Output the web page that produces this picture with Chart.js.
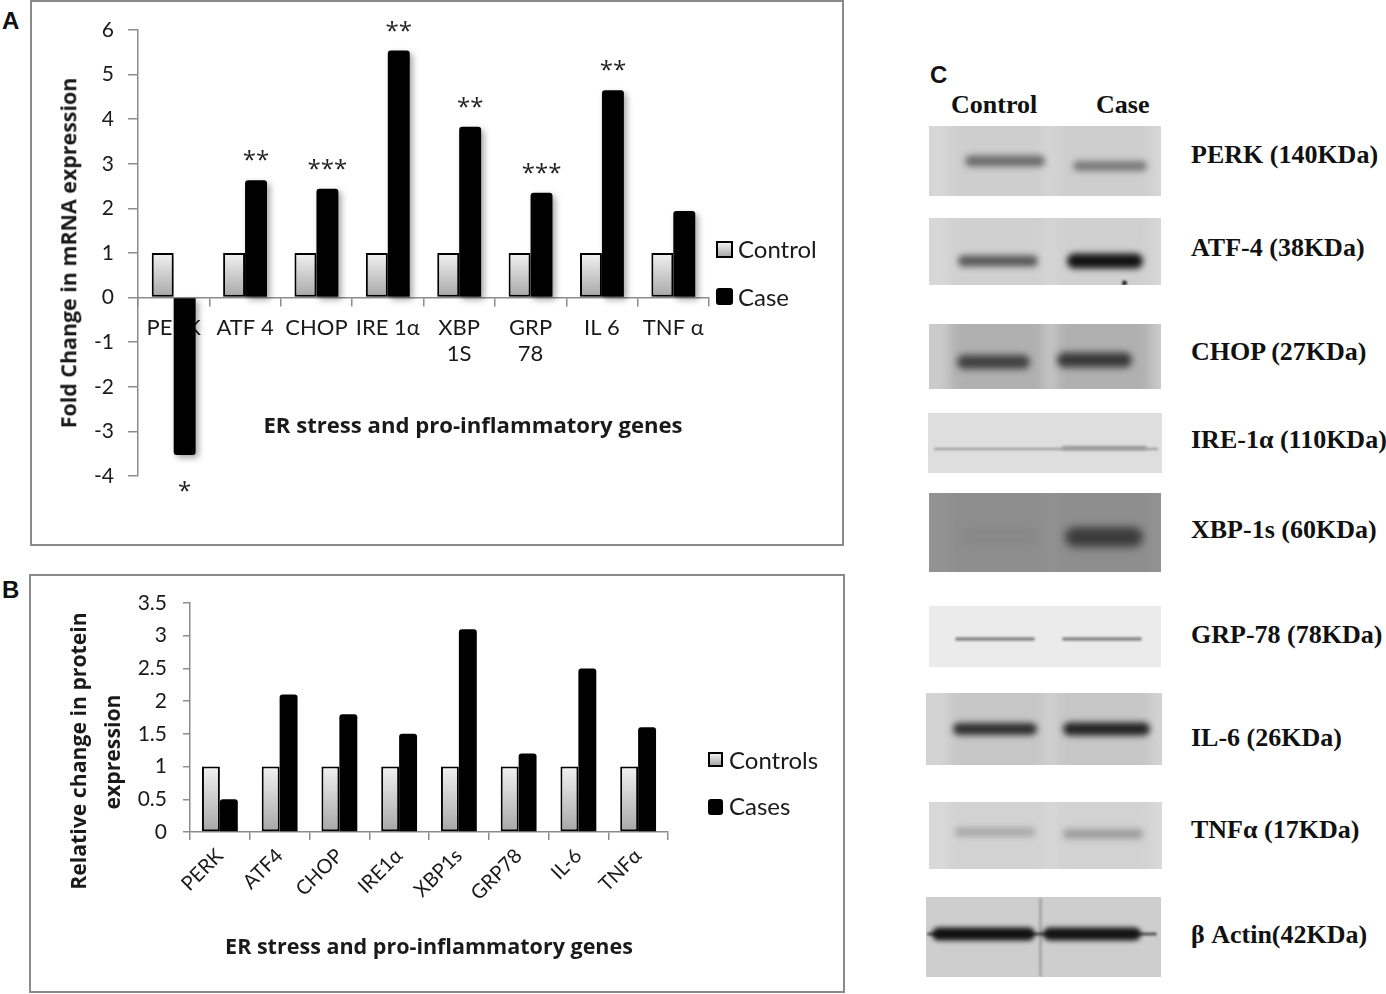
<!DOCTYPE html>
<html lang="en">
<head>
<meta charset="UTF-8">
<title>ER stress and pro-inflammatory genes</title>
<script src="https://cdn.jsdelivr.net/npm/chart.js"></script>
<style>
    body { margin: 0; background: #fff; font-family: Lato, sans-serif; }
    #page { position: relative; width: 1386px; height: 994px; overflow: hidden; background: #fff; }
    .panel { position: absolute; border: 2px solid #8a8a8a; box-sizing: border-box; }
    canvas { position: absolute; }
    .letter { position: absolute; font: bold 24px 'Liberation Sans', Arial, sans-serif; color: #111; line-height: 1; }
    .ytitle, .xtitle { position: absolute; white-space: nowrap; font-family: 'Open Sans', 'DejaVu Sans', sans-serif;
              font-weight: 700; color: #1a1a1a; line-height: 1; }
    .ytitle { transform: translate(-50%, -50%) rotate(-90deg); }
    .xtitle { transform: translate(-50%, -50%); }
    .leg { position: absolute; font-size: 24px; color: #1a1a1a; line-height: 1; transform: translateY(-50%); }
    .sw { position: absolute; box-sizing: border-box; }
    .sw.ctrl { border: 2px solid #000; background: linear-gradient(#f0f0f0, #a8a8a8); }
    .sw.case { background: #000; border-radius: 3px; }
    .serif { position: absolute; font: bold 26px 'Liberation Serif', 'Times New Roman', serif; color: #111;
             white-space: nowrap; transform: translateY(-50%); line-height: 1; }
</style>
</head>
<body>
<div id="page">
    <!-- A: mRNA -->
    <div class="panel" style="left:30px; top:0; width:814px; height:546px;"></div>
    <div class="letter" style="left:2px; top:9px;">A</div>
    <canvas id="chartA" width="843" height="545" style="left:0; top:0;"></canvas>
    <div class="ytitle" id="ytA" style="left:68px; top:253px; font-size:20px;">Fold Change in mRNA expression</div>
    <div class="xtitle" id="xtA" style="left:473px; top:424px; font-size:20px;">ER stress and pro-inflammatory genes</div>
    <div class="sw ctrl" style="left:716px; top:241px; width:17px; height:17px;"></div>
    <div class="leg" style="left:738px; top:249px;">Control</div>
    <div class="sw case" style="left:716px; top:288px; width:17px; height:17px;"></div>
    <div class="leg" style="left:738px; top:297px;">Case</div>

    <!-- B: protein -->
    <div class="panel" style="left:29px; top:574px; width:816px; height:419px;"></div>
    <div class="letter" style="left:2px; top:578px;">B</div>
    <canvas id="chartB" width="845" height="420" style="left:0; top:574px;"></canvas>
    <div class="ytitle" id="ytB1" style="left:78px; top:751px; font-size:20px;">Relative change in protein</div>
    <div class="ytitle" id="ytB2" style="left:112px; top:752px; font-size:20px;">expression</div>
    <div class="xtitle" id="xtB" style="left:429px; top:946px; font-size:19px;">ER stress and pro-inflammatory genes</div>
    <div class="sw ctrl" style="left:708px; top:752px; width:15px; height:15px;"></div>
    <div class="leg" style="left:729px; top:760px;">Controls</div>
    <div class="sw case" style="left:708px; top:799px; width:15px; height:16px;"></div>
    <div class="leg" style="left:729px; top:806px;">Cases</div>

    <!-- C: western blots -->
    <div class="letter" style="left:930px; top:63px;">C</div>
    <div class="serif" style="left:951px; top:105px;">Control</div>
    <div class="serif" style="left:1096px; top:105px;">Case</div>
    <canvas id="blots" width="280" height="890" style="left:900px; top:100px;"></canvas>
    <div class="serif" style="left:1191px; top:155px;">PERK (140KDa)</div>
    <div class="serif" style="left:1191px; top:248px;">ATF-4 (38KDa)</div>
    <div class="serif" style="left:1191px; top:352px;">CHOP (27KDa)</div>
    <div class="serif" style="left:1191px; top:440px;">IRE-1α (110KDa)</div>
    <div class="serif" style="left:1191px; top:530px;">XBP-1s (60KDa)</div>
    <div class="serif" style="left:1191px; top:635px;">GRP-78 (78KDa)</div>
    <div class="serif" style="left:1191px; top:738px;">IL-6 (26KDa)</div>
    <div class="serif" style="left:1191px; top:830px;">TNFα (17KDa)</div>
    <div class="serif" style="left:1191px; top:935px;">β Actin(42KDa)</div>
</div>

<script>
    // ---- data ----
    const genesA = ['PERK', 'ATF 4', 'CHOP', 'IRE 1α', ['XBP', '1S'], ['GRP', '78'], 'IL 6', 'TNF α'];
    const controlA = [1, 1, 1, 1, 1, 1, 1, 1];
    const caseA = [-3.53, 2.63, 2.44, 5.54, 3.83, 2.35, 4.65, 1.94];
    const starsA = ['*', '**', '***', '**', '**', '***', '**', ''];

    const genesB = ['PERK', 'ATF4', 'CHOP', 'IRE1α', 'XBP1s', 'GRP78', 'IL-6', 'TNFα'];
    const controlB = [1, 1, 1, 1, 1, 1, 1, 1];
    const caseB = [0.5, 2.1, 1.8, 1.5, 3.1, 1.2, 2.5, 1.6];

    const axisGray = '#8c8c8c';
    const ink = '#1a1a1a';

    // stretch a title's font so the text spans the same length as in the figure
    function fitText(id, target) {
        const el = document.getElementById(id);
        const fs = parseFloat(getComputedStyle(el).fontSize);
        const size = fs * target / el.offsetWidth;
        el.style.fontSize = size + 'px';
        return size;
    }
    fitText('ytA', 351);
    fitText('xtA', 419);
    document.getElementById('ytB2').style.fontSize = fitText('ytB1', 278) + 'px';
    fitText('xtB', 408);

    // grey-to-white fill of the control bars, spanning 0..1 on the y scale
    function controlFill(context) {
        const chart = context.chart;
        if (!chart.chartArea) return '#cccccc';
        const y = chart.scales.y;
        const g = chart.ctx.createLinearGradient(0, y.getPixelForValue(1), 0, y.getPixelForValue(0));
        g.addColorStop(0, '#f2f2f2');
        g.addColorStop(1, '#a6a6a6');
        return g;
    }

    const shadowPlugin = {
        id: 'barShadow',
        beforeDatasetsDraw(chart) {
            const ctx = chart.ctx;
            ctx.save();
            ctx.shadowColor = 'rgba(0,0,0,0.35)';
            ctx.shadowBlur = 6;
            ctx.shadowOffsetX = 3;
            ctx.shadowOffsetY = 3;
        },
        afterDatasetsDraw(chart) {
            chart.ctx.restore();
        }
    };

    const starsPlugin = {
        id: 'stars',
        afterDraw(chart) {
            const ctx = chart.ctx;
            const meta = chart.getDatasetMeta(1);
            ctx.save();
            ctx.font = '24px "Open Sans"';
            ctx.fillStyle = '#222';
            ctx.textAlign = 'center';
            ctx.textBaseline = 'alphabetic';
            starsA.forEach((s, i) => {
                if (!s) return;
                const bar = meta.data[i];
                const y = caseA[i] >= 0 ? bar.y - 12 : bar.y + 44;
                ctx.fillText(s, bar.x, y);
            });
            ctx.restore();
        }
    };

    function valueAxis(min, max, step, width, tickLen, pad) {
        return {
            min: min, max: max,
            afterFit: s => { s.width = width; },
            ticks: { stepSize: step, font: { family: 'Lato', size: 21 }, color: ink, padding: pad,
                     callback: v => String(v) },
            grid: { drawOnChartArea: false, tickLength: tickLen, color: axisGray, lineWidth: 1.5 },
            border: { color: axisGray, width: 1.5 }
        };
    }

    new Chart(document.getElementById('chartA'), {
        type: 'bar',
        data: {
            labels: genesA,
            datasets: [
                { label: 'Control', data: controlA, backgroundColor: controlFill, borderColor: '#000',
                  borderWidth: 2, borderSkipped: false },
                { label: 'Case', data: caseA, backgroundColor: '#000', borderRadius: 3 }
            ]
        },
        options: {
            responsive: false,
            animation: false,
            devicePixelRatio: 1,
            layout: { padding: { left: 0, top: 30, right: 134, bottom: 69 } },
            datasets: { bar: { categoryPercentage: 0.615, barPercentage: 1 } },
            plugins: { legend: { display: false }, tooltip: { enabled: false } },
            scales: {
                x: {
                    position: { y: 0 },
                    offset: true,
                    grid: { offset: true, drawOnChartArea: false, tickLength: 8, color: axisGray, lineWidth: 1.5 },
                    border: { color: axisGray, width: 1.5 },
                    ticks: { font: { family: 'Lato', size: 22 }, color: ink, padding: 9,
                             maxRotation: 0, autoSkip: false }
                },
                y: valueAxis(-4, 6, 1, 138, 10, 14)
            }
        },
        plugins: [shadowPlugin, starsPlugin]
    });

    new Chart(document.getElementById('chartB'), {
        type: 'bar',
        data: {
            labels: genesB,
            datasets: [
                { label: 'Controls', data: controlB, backgroundColor: controlFill, borderColor: '#000',
                  borderWidth: 2, borderSkipped: false },
                { label: 'Cases', data: caseB, backgroundColor: '#000', borderRadius: 3 }
            ]
        },
        options: {
            responsive: false,
            animation: false,
            devicePixelRatio: 1,
            layout: { padding: { left: 0, top: 29, right: 177, bottom: 62 } },
            datasets: { bar: { categoryPercentage: 0.6, barPercentage: 1 } },
            plugins: { legend: { display: false }, tooltip: { enabled: false } },
            scales: {
                x: {
                    offset: true,
                    afterFit: s => { s.height = 100; },
                    grid: { offset: true, drawOnChartArea: false, tickLength: 8, color: axisGray, lineWidth: 1.5 },
                    border: { color: axisGray, width: 1.5 },
                    ticks: { font: { family: 'Lato', size: 20 }, color: ink, padding: 4,
                             minRotation: 45, maxRotation: 45, autoSkip: false }
                },
                y: valueAxis(0, 3.5, 0.5, 190, 7, 16)
            }
        }
    });

    // ---- western blot strips (panel C) ----
    const blots = [
        { x0: 929, x1: 1161, y: 126, h: 70, bg: '#d7d7d7', lanes: 'rgba(0,0,0,0.04)',
          bands: [[965, 80, 161, 11, '#6c6c6c', 3], [1073, 74, 166, 10, '#787878', 3]] },
        { x0: 929, x1: 1161, y: 218, h: 67, bg: '#d7d7d7', lanes: 'rgba(0,0,0,0.03)',
          bands: [[958, 80, 261, 11, '#575757', 3], [1067, 76, 261, 15, '#121212', 3], [1122, 5, 283, 5, '#222', 1]] },
        { x0: 929, x1: 1161, y: 324, h: 65, bg: '#cbcbcb', lanes: 'rgba(0,0,0,0.13)',
          bands: [[957, 73, 362, 14, '#404040', 3.5], [1057, 75, 360, 15, '#383838', 3.5]] },
        { x0: 928, x1: 1162, y: 413, h: 60, bg: '#dedede', lanes: null,
          bands: [[934, 224, 449, 2.5, '#a0a0a0', 1], [1062, 85, 448, 4, '#9a9a9a', 1.5]] },
        { x0: 929, x1: 1161, y: 493, h: 79, bg: '#939393', lanes: 'rgba(0,0,0,0.03)',
          bands: [[960, 80, 536, 16, '#888888', 5], [1065, 78, 537, 20, '#3c3c3c', 4]] },
        { x0: 929, x1: 1161, y: 606, h: 61, bg: '#ebebeb', lanes: null,
          bands: [[955, 80, 639, 3.5, '#858585', 1], [1062, 80, 639, 3.5, '#858585', 1]] },
        { x0: 926, x1: 1162, y: 693, h: 72, bg: '#d3d3d3', lanes: 'rgba(0,0,0,0.06)',
          bands: [[953, 84, 729, 12, '#2e2e2e', 3], [1063, 87, 729, 13, '#222222', 3]] },
        { x0: 929, x1: 1162, y: 802, h: 67, bg: '#d9d9d9', lanes: 'rgba(0,0,0,0.03)',
          bands: [[955, 80, 832, 8, '#a4a4a4', 3], [1063, 80, 834, 9, '#9a9a9a', 3]] },
        { x0: 926, x1: 1161, y: 897, h: 80, bg: '#cecece', lanes: null,
          bands: [[927, 230, 934, 3, '#555555', 1], [932, 103, 934, 13, '#111111', 2.5], [1043, 98, 934, 13, '#151515', 2.5],
                  [1039, 3, 937, 80, 'rgba(0,0,0,0.18)', 1]] }
    ];

    function drawBlots() {
        const ctx = document.getElementById('blots').getContext('2d');
        ctx.translate(-900, -100);
        blots.forEach(b => {
            ctx.fillStyle = b.bg;
            ctx.fillRect(b.x0, b.y, b.x1 - b.x0, b.h);
            ctx.save();
            ctx.beginPath();
            ctx.rect(b.x0, b.y, b.x1 - b.x0, b.h);
            ctx.clip();
            if (b.lanes) {
                ctx.filter = 'blur(6px)';
                ctx.fillStyle = b.lanes;
                ctx.fillRect(950, b.y - 10, 95, b.h + 20);
                ctx.fillRect(1056, b.y - 10, 95, b.h + 20);
            }
            b.bands.forEach(([x, w, cy, t, c, blur]) => {
                ctx.filter = 'blur(' + blur + 'px)';
                ctx.fillStyle = c;
                ctx.beginPath();
                ctx.roundRect(x, cy - t / 2, w, t, Math.min(t / 2, w / 2));
                ctx.fill();
            });
            ctx.restore();
        });
    }
    drawBlots();
</script>
</body>
</html>
